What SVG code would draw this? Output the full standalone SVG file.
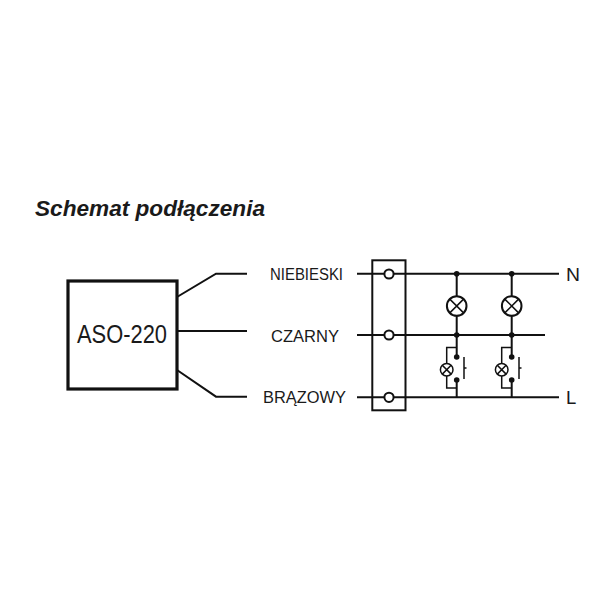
<svg xmlns="http://www.w3.org/2000/svg" width="600" height="600" viewBox="0 0 600 600">
<style>
text{font-family:"Liberation Sans",Arial,sans-serif;fill:#1a1a1a}
.lbl{font-size:16px}
.w{fill:none;stroke:#111;stroke-width:2}
.t{fill:none;stroke:#111;stroke-width:1.5}
.term{fill:#fff;stroke:#111;stroke-width:2}
.lamp{fill:#fff;stroke:#111;stroke-width:2}
.dot{fill:#111}
</style>
<rect width="600" height="600" fill="#fff"/>
<text x="35" y="216" style="font-size:22px;font-weight:bold;font-style:italic" textLength="230" lengthAdjust="spacingAndGlyphs">Schemat podłączenia</text>
<g id="connectors">
<path class="w" d="M177 297L216 273.7H247M177 331H247M177 370L216 396.7H247"/>
<path class="w" d="M357 273.7H559M357 335H545M357 397.3H559"/>
<path class="w" d="M456.7 273.7V296M456.7 316V357M456.7 380V397.3M511.7 273.7V296M511.7 316V357M511.7 380V397.3"/>
<path class="t" d="M456.7 347.5H446.7V388H456.7M511.7 347.5H501.7V388H511.7"/>
<path class="t" d="M464 357V379M464 368H466.5M519 357V379M519 368H521.5"/>
</g>
<g id="aso-220">
<rect x="68" y="281" width="109" height="108" fill="#fff" stroke="#111" stroke-width="3.2"/>
<text x="77" y="343" style="font-size:25.5px" textLength="90" lengthAdjust="spacingAndGlyphs">ASO-220</text>
</g>
<g id="label-niebieski"><text class="lbl" x="270" y="280" textLength="73" lengthAdjust="spacingAndGlyphs">NIEBIESKI</text></g>
<g id="label-czarny"><text class="lbl" x="271" y="342" textLength="68" lengthAdjust="spacingAndGlyphs">CZARNY</text></g>
<g id="label-brazowy"><text class="lbl" x="263" y="402.5" textLength="83" lengthAdjust="spacingAndGlyphs">BRĄZOWY</text></g>
<g id="terminal-block">
<rect x="372.3" y="260.3" width="33.2" height="150" fill="none" stroke="#111" stroke-width="2"/>
<circle class="term" cx="389" cy="274" r="4.6"/>
<circle class="term" cx="389" cy="335" r="4.6"/>
<circle class="term" cx="389" cy="397.3" r="4.6"/>
</g>
<g id="lamp-1">
<circle class="lamp" cx="456.7" cy="306" r="9.8"/><path class="t" d="M449.8 299.1L463.6 312.9M463.6 299.1L449.8 312.9"/>
<circle class="dot" cx="456.7" cy="273.7" r="2.8"/><circle class="dot" cx="456.7" cy="335" r="2.8"/>
</g>
<g id="lamp-2">
<circle class="lamp" cx="511.7" cy="306" r="9.8"/><path class="t" d="M504.8 299.1L518.6 312.9M518.6 299.1L504.8 312.9"/>
<circle class="dot" cx="511.7" cy="273.7" r="2.8"/><circle class="dot" cx="511.7" cy="335" r="2.8"/>
</g>
<g id="switch-1">
<circle class="lamp" cx="446.7" cy="369.7" r="6.3" style="stroke-width:1.5"/><path class="t" d="M442.3 365.3L451.1 374.1M451.1 365.3L442.3 374.1"/>
<circle class="dot" cx="456.7" cy="357" r="2.8"/><circle class="dot" cx="456.7" cy="380" r="2.8"/>
</g>
<g id="switch-2">
<circle class="lamp" cx="501.7" cy="369.7" r="6.3" style="stroke-width:1.5"/><path class="t" d="M497.3 365.3L506.1 374.1M506.1 365.3L497.3 374.1"/>
<circle class="dot" cx="511.7" cy="357" r="2.8"/><circle class="dot" cx="511.7" cy="380" r="2.8"/>
</g>
<g id="label-n"><text x="566" y="281" style="font-size:18.5px" textLength="14" lengthAdjust="spacingAndGlyphs">N</text></g>
<g id="label-l"><text x="566" y="404" style="font-size:18.5px">L</text></g>
</svg>
